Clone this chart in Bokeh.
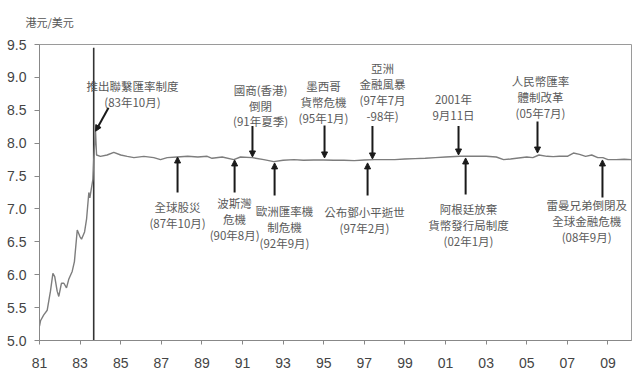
from bokeh.plotting import figure
from bokeh.models import FixedTicker, PrintfTickFormatter, Arrow, NormalHead, ColumnDataSource
from bokeh.core.properties import value
from bokeh.embed import file_html
from bokeh.resources import INLINE

# ---- data: HKD per USD ----
years = [
    1981.00, 1981.05, 1981.21, 1981.38, 1981.54, 1981.66, 1981.75, 1981.87, 1981.95, 1982.08,
    1982.20, 1982.33, 1982.44, 1982.61, 1982.72, 1982.86, 1982.99, 1983.07, 1983.22, 1983.32,
    1983.43, 1983.48, 1983.55, 1983.63, 1983.67, 1983.76, 1983.81, 1984.00, 1984.33, 1984.66,
    1985.00, 1985.32, 1985.65, 1986.14, 1986.63, 1986.96, 1987.29, 1987.78, 1988.30, 1988.80,
    1989.26, 1989.50, 1990.00, 1990.57, 1990.90, 1991.48, 1992.05, 1992.54, 1993.00, 1993.53,
    1994.00, 1994.50, 1995.00, 1995.50, 1996.00, 1996.50, 1997.00, 1997.50, 1998.00, 1998.50,
    1999.00, 1999.50, 2000.00, 2000.50, 2001.00, 2001.70, 2002.00, 2002.50, 2003.00, 2003.50,
    2003.86, 2004.20, 2004.60, 2005.00, 2005.30, 2005.60, 2006.00, 2006.30, 2006.60, 2007.00,
    2007.30, 2007.60, 2007.90, 2008.20, 2008.50, 2008.75, 2009.00, 2009.40, 2009.80, 2010.16,
]
hkd_per_usd = [
    5.22, 5.30, 5.39, 5.46, 5.75, 6.02, 5.97, 5.75, 5.67, 5.87,
    5.87, 5.80, 5.93, 6.05, 6.20, 6.68, 6.58, 6.54, 6.65, 6.85,
    7.25, 7.17, 7.30, 7.45, 7.75, 8.18, 7.82, 7.80, 7.82, 7.86,
    7.82, 7.80, 7.78, 7.80, 7.78, 7.75, 7.78, 7.79, 7.80, 7.79,
    7.80, 7.77, 7.79, 7.75, 7.79, 7.78, 7.75, 7.72, 7.74, 7.75,
    7.74, 7.745, 7.745, 7.74, 7.74, 7.735, 7.745, 7.75, 7.75, 7.75,
    7.76, 7.765, 7.77, 7.78, 7.79, 7.80, 7.80, 7.80, 7.80, 7.79,
    7.75, 7.76, 7.775, 7.79, 7.78, 7.82, 7.80, 7.795, 7.80, 7.80,
    7.85, 7.83, 7.80, 7.82, 7.78, 7.78, 7.75, 7.75, 7.755, 7.75,
]
assert len(years) == len(hkd_per_usd)

peg_year = 1983.67

y_ticks = [5.0, 5.5, 6.0, 6.5, 7.0, 7.5, 8.0, 8.5, 9.0, 9.5]
x_ticks = [1981, 1983, 1985, 1987, 1989, 1991, 1993, 1995, 1997, 1999, 2001, 2003, 2005, 2007, 2009]
x_tick_labels = ["81", "83", "85", "87", "89", "91", "93", "95", "97", "99", "01", "03", "05", "07", "09"]

# events: label lines
event_labels = [
    ["推出聯繫匯率制度", "(83年10月)"],
    ["全球股災", "(87年10月)"],
    ["波斯灣", "危機", "(90年8月)"],
    ["國商(香港)", "倒閉", "(91年夏季)"],
    ["歐洲匯率機", "制危機", "(92年9月)"],
    ["墨西哥", "貨幣危機", "(95年1月)"],
    ["亞洲", "金融風暴", "(97年7月", "-98年)"],
    ["公布鄧小平逝世", "(97年2月)"],
    ["2001年", "9月11日"],
    ["阿根廷放棄", "貨幣發行局制度", "(02年1月)"],
    ["人民幣匯率", "體制改革", "(05年7月)"],
    ["雷曼兄弟倒閉及", "全球金融危機", "(08年9月)"],
]
# layout: label anchor (first line centre) and arrow tail/tip, in data units
label_pos = [
    (1985.58, 8.87), (1987.80, 7.025), (1990.61, 7.085), (1991.89, 8.81),
    (1993.07, 6.965), (1994.99, 8.87), (1997.90, 9.14), (1997.01, 6.95),
    (2001.39, 8.675), (2002.13, 6.995), (2005.68, 8.945), (2007.95, 7.055),
]
arrow_pos = [
    (1984.40, 8.54, 1983.76, 8.18),
    (1987.80, 7.25, 1987.80, 7.79),
    (1990.61, 7.25, 1990.61, 7.745),
    (1991.49, 8.26, 1991.49, 7.79),
    (1992.58, 7.205, 1992.58, 7.70),
    (1995.04, 8.27, 1995.04, 7.775),
    (1997.40, 8.26, 1997.40, 7.76),
    (1997.16, 7.205, 1997.16, 7.70),
    (2001.64, 8.26, 2001.64, 7.82),
    (2001.99, 7.22, 2001.99, 7.775),
    (2005.53, 8.33, 2005.53, 7.85),
    (2008.73, 7.175, 2008.73, 7.745),
]
LINE_GAP = 0.24  # 16 px in value units

p = figure(width=640, height=375, x_range=(1981, 2010.16), y_range=(5.0, 9.5),
           output_backend="svg", toolbar_location=None,
           min_border_left=39, min_border_right=9, min_border_top=40, min_border_bottom=35,
           background_fill_color="white", border_fill_color="white")

# unit label above the y axis
p.title.text = "港元/美元"
p.title.text_font = "Noto Sans CJK TC"
p.title.text_font_size = "11px"
p.title.text_color = "#555555"
p.title.text_font_style = "normal"
p.title.align = "left"
p.title.offset = -14
p.title.vertical_align = "top"
p.title.text_baseline = "middle"
p.title.standoff = 26

p.xgrid.visible = False
p.ygrid.visible = False
p.outline_line_color = "#9a9a9a"
p.outline_line_width = 1

for ax in (p.xaxis[0], p.yaxis[0]):
    ax.axis_line_color = "#888888"
    ax.major_tick_line_color = "#888888"
    ax.minor_tick_line_color = None
    ax.major_tick_in = 0
    ax.major_label_text_font = "Liberation Sans"
    ax.major_label_text_font_size = "14px"
    ax.major_label_text_color = "#444444"

p.yaxis.ticker = FixedTicker(ticks=y_ticks)
p.yaxis.formatter = PrintfTickFormatter(format="%.1f")
p.yaxis.major_tick_out = 5
p.yaxis.major_label_standoff = 8

p.xaxis.ticker = FixedTicker(ticks=x_ticks)
p.xaxis.major_label_overrides = {t: l for t, l in zip(x_ticks, x_tick_labels)}
p.xaxis.major_tick_out = 4
p.xaxis.major_label_standoff = 13

# peg line
p.segment(x0=[peg_year], y0=[5.0], x1=[peg_year], y1=[9.45], line_color="#333333", line_width=1.6)

# exchange rate
p.line(years, hkd_per_usd, line_color="#7d7d7d", line_width=1.4)

# arrows
for (xs, ys, xe, ye) in arrow_pos:
    p.add_layout(Arrow(x_start=xs, y_start=ys, x_end=xe, y_end=ye,
                       line_color="#1a1a1a", line_width=2,
                       end=NormalHead(size=6, fill_color="#1a1a1a", line_color="#1a1a1a", line_width=1)))

# labels
tx, ty, tt = [], [], []
for (lx, ly), lines in zip(label_pos, event_labels):
    for i, s in enumerate(lines):
        tx.append(lx)
        ty.append(ly - i * LINE_GAP)
        tt.append(s)
src = ColumnDataSource(dict(x=tx, y=ty, text=tt))
p.text(x="x", y="y", text="text", source=src, text_font=value("Noto Sans CJK TC"),
       text_font_size="11.5px", text_color="#5a5a5a", text_align="center", text_baseline="middle")

open("out.html", "w").write(file_html(p, INLINE))
